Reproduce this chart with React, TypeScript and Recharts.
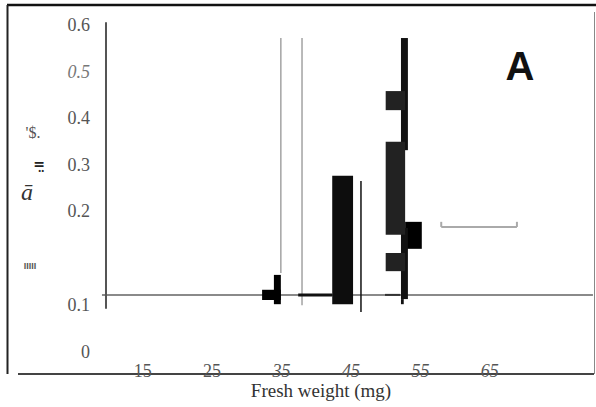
import {
  ComposedChart,
  Line,
  ReferenceArea,
  ReferenceLine,
  XAxis,
  YAxis,
} from "recharts";

// frequency vs fresh weight (mg)
const xTicks = [15, 25, 35, 45, 55, 65];
const yTicks = [0, 0.1, 0.2, 0.3, 0.4, 0.5, 0.6];
const italicX = [35, 45, 55, 65];

const baseline = [
  { w: 9.14, f: 0.02 },
  { w: 79.85, f: 0.02 },
];

// filled blocks: weight range (mg) x frequency range
const blocks = [
  { from: 52.8, to: 55.2, low: 0.119, high: 0.177 },
  { from: 32.2, to: 34.9, low: 0.009, high: 0.031 },
  { from: 33.9, to: 34.9, low: 0.0, high: 0.063 },
  { from: 42.3, to: 45.3, low: 0.0, high: 0.276 },
  { from: 52.2, to: 53.2, low: 0.331, high: 0.572 },
  { from: 52.2, to: 53.2, low: 0.011, high: 0.164 },
  { from: 52.2, to: 52.6, low: 0.0, high: 0.011 },
  { from: 50.0, to: 52.8, low: 0.417, high: 0.458 },
  { from: 50.0, to: 52.8, low: 0.149, high: 0.349 },
  { from: 50.0, to: 52.8, low: 0.071, high: 0.11 },
];
const blockFills = ["#000", "#000", "#000", "#0d0d0d", "#111", "#111", "#111", "#222", "#222", "#222"];

// thin strokes
const strokes = [
  { x1: 9.72, y1: -0.01, x2: 9.72, y2: 0.606 },
  { x1: 34.9, y1: 0.067, x2: 34.9, y2: 0.572 },
  { x1: 37.95, y1: -0.002, x2: 37.95, y2: 0.572 },
  { x1: 37.4, y1: 0.02, x2: 42.3, y2: 0.02 },
  { x1: 46.44, y1: -0.017, x2: 46.44, y2: 0.265 },
  { x1: 49.9, y1: 0.02, x2: 52.1, y2: 0.02 },
  { x1: 58.0, y1: 0.166, x2: 68.9, y2: 0.166 },
  { x1: 58.0, y1: 0.166, x2: 58.0, y2: 0.177 },
  { x1: 68.9, y1: 0.166, x2: 68.9, y2: 0.177 },
];
const strokeColors = ["#555", "#a3a3a3", "#a3a3a3", "#111", "#111", "#333", "#aaa", "#aaa", "#aaa"];
const strokeWidths = [2, 1.5, 1.5, 3, 1.5, 2, 2, 2, 2];

const serif = "'Liberation Serif', 'Times New Roman', serif";

const YTick = ({ x, y, payload }: any) => {
  const v = payload.value;
  const drop = v < 0.15 ? 47 : 0;
  const it = v === 0.5;
  return (
    <text
      x={x}
      y={y + drop}
      dy="0.35em"
      textAnchor="end"
      fontSize={18}
      fontFamily={serif}
      fontStyle={it ? "italic" : "normal"}
      fill={it ? "#777" : "#555"}
    >
      {v === 0 ? "0" : v.toFixed(1)}
    </text>
  );
};

const XTick = ({ x, y, payload }: any) => (
  <text
    x={x}
    y={y + 3}
    textAnchor="middle"
    fontSize={18}
    fontFamily={serif}
    fontStyle={italicX.includes(payload.value) ? "italic" : "normal"}
    fill="#555"
  >
    {payload.value}
  </text>
);

export default function App() {
  return (
    <div
      style={{
        position: "absolute",
        left: 0,
        top: 0,
        width: 596,
        height: 407,
        background: "#fff",
      }}
    >
      <ComposedChart
        width={596}
        height={407}
        data={baseline}
        margin={{ top: 25, right: 2, bottom: 3, left: 41 }}
      >
        <XAxis
          dataKey="w"
          type="number"
          domain={[9, 80]}
          ticks={xTicks}
          allowDataOverflow
          height={30}
          tickLine={false}
          tickSize={0}
          tickMargin={0}
          tick={<XTick />}
          axisLine={{ stroke: "#444", strokeWidth: 2 }}
        />
        <YAxis
          type="number"
          domain={[-0.15, 0.6]}
          ticks={yTicks}
          allowDataOverflow
          width={60}
          tickLine={false}
          axisLine={false}
          tickSize={0}
          tickMargin={11}
          tick={<YTick />}
        />
        <Line
          dataKey="f"
          type="linear"
          stroke="#8a8a8a"
          strokeWidth={2}
          dot={false}
          activeDot={false}
          isAnimationActive={false}
          zIndex={100}
        />
        {strokes.map((s, i) => (
          <ReferenceLine
            key={"s" + i}
            segment={[
              { x: s.x1, y: s.y1 },
              { x: s.x2, y: s.y2 },
            ]}
            stroke={strokeColors[i]}
            strokeWidth={strokeWidths[i]}
            ifOverflow="visible"
            zIndex={800}
          />
        ))}
        {blocks.map((b, i) => (
          <ReferenceArea
            key={"b" + i}
            x1={b.from}
            x2={b.to}
            y1={b.low}
            y2={b.high}
            fill={blockFills[i]}
            fillOpacity={1}
            stroke="none"
            ifOverflow="visible"
            zIndex={900}
          />
        ))}
      </ComposedChart>
      <svg
        width={596}
        height={407}
        style={{ position: "absolute", left: 0, top: 0, pointerEvents: "none" }}
      >
        <line x1={7} y1={5} x2={596} y2={5} stroke="#111" strokeWidth={2.5} />
        <line x1={7.5} y1={5} x2={7.5} y2={374} stroke="#222" strokeWidth={2} />
        <line x1={594.5} y1={12} x2={594.5} y2={374} stroke="#888" strokeWidth={1} />
        <line x1={18} y1={374} x2={102} y2={374} stroke="#444" strokeWidth={2} />
        <text x={321} y={397} textAnchor="middle" fontSize={19} fontFamily={serif} fill="#333">
          Fresh weight (mg)
        </text>
        <text x={520} y={80} textAnchor="middle" fontSize={40} fontWeight="bold" fontFamily="'Liberation Sans', Arial, sans-serif" fill="#111">
          A
        </text>
        <text x={33} y={138} textAnchor="middle" fontSize={16} fontFamily={serif} fill="#555">
          '$.
        </text>
        <text x={39} y={169} textAnchor="middle" fontSize={14} fontWeight="bold" fontFamily="'DejaVu Serif', serif" fill="#222">
          {"=\u0324"}
        </text>
        <text x={27} y={200} textAnchor="middle" fontSize={24} fontStyle="italic" fontFamily={serif} fill="#333">
          {"\u0101"}
        </text>
        <text x={30} y={269} textAnchor="middle" fontSize={9} fontWeight="bold" fontFamily="'Liberation Sans', sans-serif" fill="#555">
          IIIII
        </text>
      </svg>
    </div>
  );
}
